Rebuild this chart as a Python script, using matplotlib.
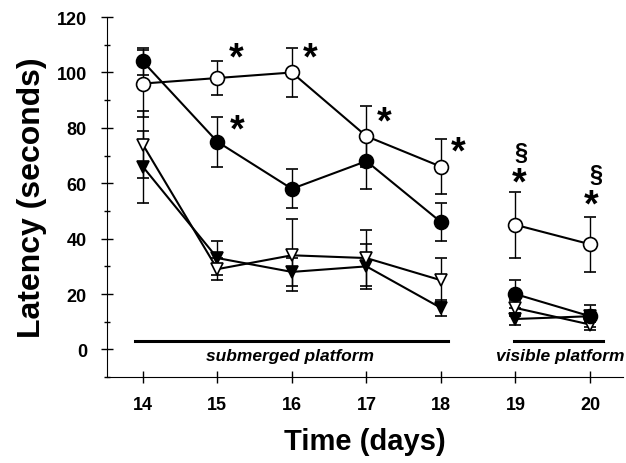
import matplotlib
matplotlib.use('Agg')
import matplotlib.pyplot as plt
from matplotlib.ticker import MultipleLocator

plt.rcParams['font.family'] = ['Liberation Sans', 'DejaVu Sans']

days_sub = [14, 15, 16, 17, 18]
days_vis = [19, 20]

open_circ = [96, 98, 100, 77, 66, 45, 38]
open_circ_err = [12, 6, 9, 11, 10, 12, 10]
fill_circ = [104, 75, 58, 68, 46, 20, 12]
fill_circ_err = [5, 9, 7, 10, 7, 5, 4]
open_tri = [74, 29, 34, 33, 25, 15, 9]
open_tri_err = [12, 4, 13, 10, 8, 3, 2]
fill_tri = [66, 33, 28, 30, 15, 11, 12]
fill_tri_err = [13, 6, 5, 8, 3, 2, 2]

stars = [(15.25, 105), (16.25, 105), (15.27, 79), (17.24, 82), (18.23, 71), (19.05, 60), (20.02, 52)]
sects = [(19.08, 71), (20.08, 63)]

fig = plt.figure(figsize=(6.26, 4.64), dpi=100)
ax = fig.add_axes([0.171, 0.185, 0.825, 0.776])

series = [
  (fill_tri, fill_tri_err, dict(marker='v', mfc='black', ms=9)),
  (open_tri, open_tri_err, dict(marker='v', mfc='white', ms=9)),
  (fill_circ, fill_circ_err, dict(marker='o', mfc='black', ms=10)),
  (open_circ, open_circ_err, dict(marker='o', mfc='white', ms=10)),
]
for vals, errs, st in series:
  for days, sl in ((days_sub, slice(0, 5)), (days_vis, slice(5, 7))):
    ax.errorbar(days, vals[sl], yerr=errs[sl], color='black', lw=1.5, mec='black',
                mew=1.2, capsize=4, elinewidth=1, capthick=1, **st)

for x, y in stars:
  ax.text(x, y, '*', fontsize=27, fontweight='bold', ha='center', va='center')
for x, y in sects:
  ax.text(x, y, '§', fontsize=17, fontweight='bold', ha='center', va='center')

ax.plot([13.9, 18.1], [3, 3], color='black', lw=2.2)
ax.plot([18.98, 20.17], [3, 3], color='black', lw=2.2)
ax.text(15.97, -2.3, 'submerged platform', fontsize=12.5, fontweight='bold',
        fontstyle='italic', ha='center', va='center')
ax.text(19.6, -2.3, 'visible platform', fontsize=12.5, fontweight='bold',
        fontstyle='italic', ha='center', va='center')

ax.set_xlim(13.52, 20.45)
ax.set_ylim(-10, 120)
ax.set_xticks(range(14, 21))
ax.set_yticks(range(0, 121, 20))
ax.yaxis.set_minor_locator(MultipleLocator(10))
ax.tick_params(axis='both', which='major', direction='inout', length=9, width=1,
               labelsize=13)
ax.tick_params(axis='x', which='major', pad=9)
ax.tick_params(axis='y', which='major', pad=10)
ax.tick_params(axis='y', which='minor', direction='inout', length=5, width=1)
for lbl in ax.get_xticklabels() + ax.get_yticklabels():
  lbl.set_fontweight('bold')
ax.spines['top'].set_visible(False)
ax.spines['right'].set_visible(False)
ax.set_xlabel('Time (days)', fontsize=21, fontweight='bold', labelpad=10)
ax.set_ylabel('Latency (seconds)', fontsize=23, fontweight='bold', labelpad=7)

fig.savefig('out.png', dpi=100)
